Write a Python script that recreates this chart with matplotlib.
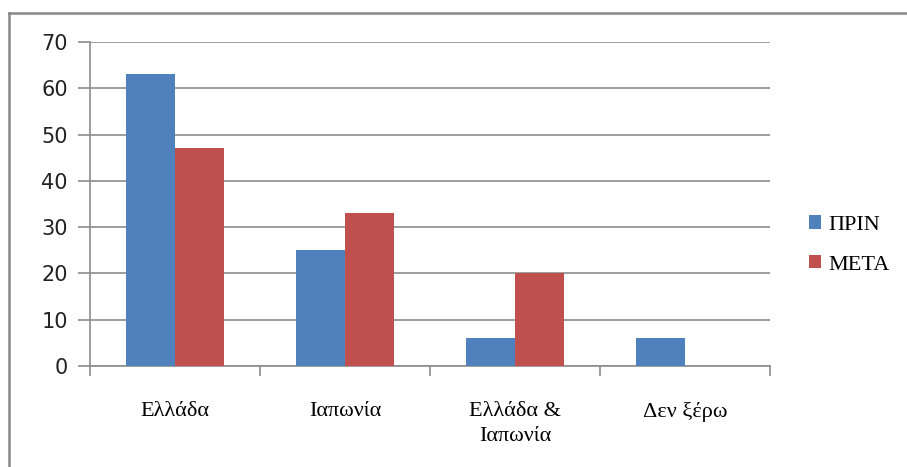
import matplotlib
matplotlib.use("Agg")
from matplotlib import pyplot as plt
from matplotlib.lines import Line2D
import numpy as np

categories = ["Ελλάδα", "Ιαπωνία", "Ελλάδα &\nΙαπωνία", "Δεν ξέρω"]
prin = [63, 25, 6, 6]
meta = [47, 33, 20, 0]
series_names = ["ΠΡΙΝ", "ΜΕΤΑ"]
colors = ["#4F81BD", "#C0504D"]

W, H = 907, 467
fig = plt.figure(figsize=(W / 100, H / 100), dpi=100)
ax = fig.add_axes([90 / W, 1 - 366 / H, 680 / W, 324 / H])

x = np.arange(len(categories))
bw = 0.29
ax.bar(x - bw / 2, prin, bw, color=colors[0], label=series_names[0], zorder=3)
ax.bar(x + bw / 2, meta, bw, color=colors[1], label=series_names[1], zorder=3)

ax.set_xlim(-0.5, len(categories) - 0.5)
ax.set_ylim(0, 70)
ax.set_yticks(range(0, 71, 10))
ax.yaxis.grid(True, color="#8c8c8c", linewidth=1.2, zorder=0)

ax.set_xticks(np.arange(len(categories) + 1) - 0.5)
ax.set_xticklabels([])
ax.set_xticks(x, minor=True)
ax.set_xticklabels(categories, minor=True, fontfamily="Liberation Serif",
                   fontsize=16, linespacing=1.45)
ax.tick_params(axis="x", which="major", length=7, color="#8c8c8c", width=1.2)
ax.tick_params(axis="x", which="minor", length=0, pad=26)
ax.tick_params(axis="y", length=9, color="#8c8c8c", width=1.2, labelsize=15,
               pad=7, labelcolor="#222222")
for lab in ax.get_xticklabels(minor=True):
    lab.set_verticalalignment("top")

for s in ["top", "right"]:
    ax.spines[s].set_visible(False)
for s in ["left", "bottom"]:
    ax.spines[s].set_color("#8c8c8c")
    ax.spines[s].set_linewidth(1.2)

leg = fig.legend(loc="center left", bbox_to_anchor=(789 / W, 1 - 245 / H),
                 frameon=False, prop={"family": "Liberation Serif", "size": 16},
                 handlelength=0.55, handleheight=0.55, handletextpad=0.3,
                 labelspacing=0.9)

# outer chart frame (top and left edges visible)
fig.add_artist(Line2D([9 / W, 1], [1 - 13 / H, 1 - 13 / H], color="#888888",
                      linewidth=1.8, transform=fig.transFigure))
fig.add_artist(Line2D([9 / W, 9 / W], [0, 1 - 13 / H], color="#888888",
                      linewidth=1.8, transform=fig.transFigure))

fig.savefig("out.png", dpi=100)
